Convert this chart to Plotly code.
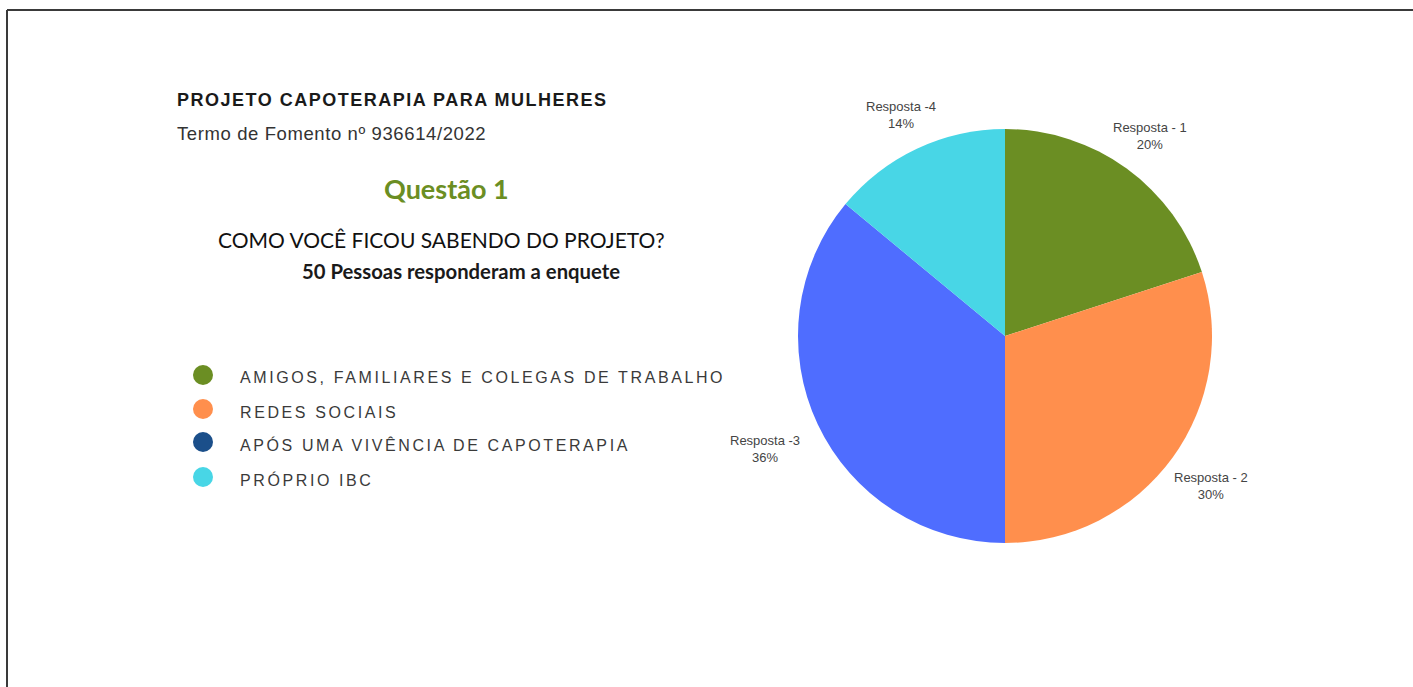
import math
import plotly.graph_objects as go

W, H = 1413, 687

# ---- data ----
labels = ["Resposta - 1", "Resposta - 2", "Resposta -3", "Resposta -4"]
values = [20, 30, 36, 14]
slice_colors = ["#6B8E23", "#FF8F4D", "#4F6DFF", "#48D6E6"]

legend_names = [
    "AMIGOS, FAMILIARES E COLEGAS DE TRABALHO",
    "REDES SOCIAIS",
    "APÓS UMA VIVÊNCIA DE CAPOTERAPIA",
    "PRÓPRIO IBC",
]
legend_colors = ["#6B8E23", "#FF8F4D", "#1B4F8A", "#48D6E6"]

title_main = "PROJETO CAPOTERAPIA PARA MULHERES"
subtitle = "Termo de Fomento nº 936614/2022"
question = "Questão 1"
question_text = "COMO VOCÊ FICOU SABENDO DO PROJETO?"
respondents = "50 Pessoas responderam a enquete"

# ---- layout geometry (pixels) ----
CX, CY, R = 1005, 336, 207


def px(x):
    return x / W


def py(y):
    return 1 - y / H


fig = go.Figure()
fig.add_trace(go.Pie(
    labels=labels,
    values=values,
    sort=False,
    direction="clockwise",
    rotation=0,
    marker=dict(colors=slice_colors, line=dict(width=0)),
    textinfo="none",
    domain=dict(x=[px(CX - R), px(CX + R)], y=[py(CY + R), py(CY - R)]),
    showlegend=False,
    hoverinfo="label+percent",
))

annotations = [
    dict(x=px(175), y=py(100), text='<b><span style="letter-spacing:1.5px">' + title_main + "</span></b>",
         xanchor="left", yanchor="middle",
         font=dict(family="Liberation Sans, Arial, sans-serif", size=18, color="#1a1a1a")),
    dict(x=px(175), y=py(133), text='<span style="letter-spacing:0.6px">' + subtitle + "</span>",
         xanchor="left", yanchor="middle",
         font=dict(family="Liberation Sans, Arial, sans-serif", size=18.5, color="#333333")),
    dict(x=px(446), y=py(188), text="<b>" + question + "</b>", xanchor="center", yanchor="middle",
         font=dict(family="Lato, sans-serif", size=27, color="#6B8E23")),
    dict(x=px(441), y=py(240), text=question_text, xanchor="center", yanchor="middle",
         font=dict(family="Lato, sans-serif", size=21, color="#111111")),
    dict(x=px(461), y=py(271), text="<b>" + respondents + "</b>", xanchor="center", yanchor="middle",
         font=dict(family="Lato, sans-serif", size=20.3, color="#1a1a1a")),
]

shapes = [
    dict(type="line", xref="paper", yref="paper", x0=px(7), x1=1, y0=py(10), y1=py(10),
         line=dict(color="#3a3a3a", width=2)),
    dict(type="line", xref="paper", yref="paper", x0=px(7), x1=px(7), y0=py(10), y1=0,
         line=dict(color="#3a3a3a", width=2)),
]

# legend
legend_y = [375, 409, 442, 477]
for name, col, yy in zip(legend_names, legend_colors, legend_y):
    shapes.append(dict(type="circle", xref="paper", yref="paper",
                       x0=px(193), x1=px(213), y0=py(yy + 10), y1=py(yy - 10),
                       fillcolor=col, line=dict(width=0)))
    annotations.append(dict(x=px(238), y=py(yy + 3), xanchor="left", yanchor="middle",
                            text='<span style="letter-spacing:2.6px">' + name + "</span>",
                            font=dict(family="Liberation Sans, Arial, sans-serif", size=16, color="#3a3a3a")))

# slice labels outside the pie, placed along each slice's mid-angle
total = sum(values)
cum = 0
GAP, HW, HH = 19, 36, 17
for lab, v in zip(labels, values):
    mid = (cum + v / 2) / total * 2 * math.pi
    cum += v
    s, c = math.sin(mid), math.cos(mid)
    ext = min(HW / abs(s) if abs(s) > 1e-6 else 1e9, HH / abs(c) if abs(c) > 1e-6 else 1e9)
    d = R + GAP + ext
    lx, ly = CX + d * s, CY - d * c
    pct = round(v / total * 100)
    annotations.append(dict(x=px(lx), y=py(ly), xanchor="center", yanchor="middle", align="center",
                            text=f"{lab}<br>{pct}%",
                            font=dict(family="Liberation Sans, Arial, sans-serif", size=13, color="#444444")))

for a in annotations:
    a.update(xref="paper", yref="paper", showarrow=False)

fig.update_layout(
    width=W, height=H,
    margin=dict(l=0, r=0, t=0, b=0),
    paper_bgcolor="white",
    plot_bgcolor="white",
    annotations=annotations,
    shapes=shapes,
)

fig.write_html("out.html", config={"displayModeBar": False},
               post_script="document.body.style.margin='0';")
